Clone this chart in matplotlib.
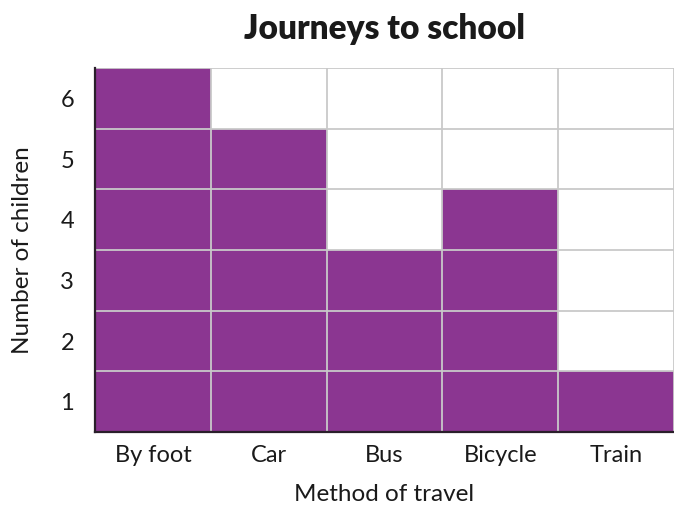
import matplotlib
matplotlib.use("Agg")
import matplotlib.pyplot as plt

# data
methods = ["By foot", "Car", "Bus", "Bicycle", "Train"]
children = [6, 5, 3, 4, 1]
y_labels = ["1", "2", "3", "4", "5", "6"]

BAR_COLOR = "#8b3691"
GRID_COLOR = "#c9c9c9"
TEXT_COLOR = "#1a1a1a"

plt.rcParams["font.family"] = ["Lato", "DejaVu Sans"]

fig = plt.figure(figsize=(6.74, 5.05), dpi=100)
ax = fig.add_axes([95 / 674, 1 - 432 / 505, 1 - 95 / 674, (432 - 68) / 505])

x = list(range(len(methods)))
ax.bar([i + 0.5 for i in x], children, width=1.0, color=BAR_COLOR,
       linewidth=0, zorder=1)

ax.set_xlim(0, len(methods))
ax.set_ylim(0, 6)

# grid lines between cells
for i in range(1, len(methods) + 1):
    ax.axvline(i, color=GRID_COLOR, lw=1.3, zorder=2)
for j in range(1, 7):
    ax.axhline(j, color=GRID_COLOR, lw=1.3, zorder=2)

ax.set_xticks([i + 0.5 for i in x])
ax.set_xticklabels(methods, fontsize=17, color=TEXT_COLOR)
ax.set_yticks([j + 0.5 for j in range(6)])
ax.set_yticklabels(y_labels, fontsize=17, color=TEXT_COLOR)
ax.tick_params(axis="x", length=0, pad=9)
ax.tick_params(axis="y", length=0, pad=15)

for side in ("top", "right"):
    ax.spines[side].set_visible(False)
for side in ("left", "bottom"):
    ax.spines[side].set_color("#2a1f2a")
    ax.spines[side].set_linewidth(1.6)
    ax.spines[side].set_zorder(3)

ax.set_xlabel("Method of travel", fontsize=17.5, color=TEXT_COLOR, labelpad=13)
ax.set_ylabel("Number of children", fontsize=17.5, color=TEXT_COLOR, labelpad=20)

fig.suptitle("Journeys to school", fontsize=24, fontweight="heavy",
             color=TEXT_COLOR, x=384 / 674, y=1 - 13 / 505, va="top")

fig.savefig("out.png", dpi=100)
